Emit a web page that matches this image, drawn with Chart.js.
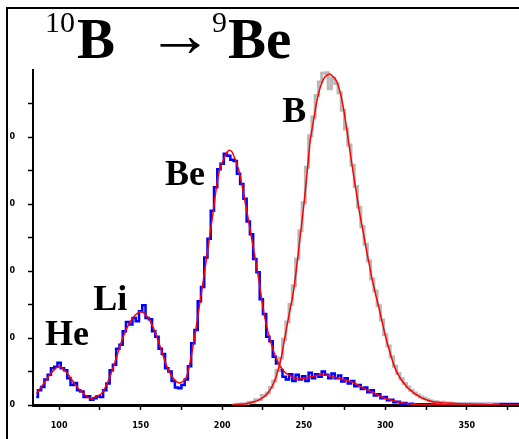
<!DOCTYPE html>
<html>
<head>
<meta charset="utf-8">
<script src="https://cdn.jsdelivr.net/npm/chart.js@4.4.0/dist/chart.umd.min.js"></script>
<style>
  html, body { margin: 0; padding: 0; background: #fff; overflow: hidden; }
  canvas { display: block; }
</style>
</head>
<body>
<canvas id="c" width="519" height="439"></canvas>
<script>
// measured spectrum (blue histogram)
const blueX = [86,88,90,92,94,96,98,100,102,104,
  106,108,110,112,114,116,118,120,122,124,
  126,128,130,132,134,136,138,140,142,144,
  146,148,150,152,154,156,158,160,162,164,
  166,168,170,172,174,176,178,180,182,184,
  186,188,190,192,194,196,198,200,202,204,
  206,208,210,212,214,216,218,220,222,224,
  226,228,230,232,234,236,238,240,242,244,
  246,248,250,252,254,256,258,260,262,264,
  266,268,270,272,274,276,278,280,282,284,
  286,288,290,292,294,296,298,300,302,304,
  306,308,310,312,314,316,318,320,330,350,382];
const blueY = [0.12,0.22,0.27,0.38,0.45,0.55,0.57,0.63,0.55,0.52,
  0.40,0.30,0.33,0.22,0.20,0.12,0.13,0.08,0.10,0.13,
  0.12,0.22,0.32,0.52,0.60,0.84,0.90,1.10,1.24,1.20,
  1.30,1.25,1.40,1.49,1.30,1.28,1.10,1.02,0.84,0.76,
  0.55,0.50,0.36,0.26,0.25,0.30,0.38,0.58,0.92,1.12,
  1.55,1.76,2.20,2.48,2.90,3.25,3.52,3.60,3.75,3.72,
  3.66,3.64,3.45,3.30,3.08,2.74,2.55,2.18,1.98,1.58,
  1.36,1.02,0.95,0.72,0.62,0.52,0.42,0.38,0.46,0.36,
  0.45,0.38,0.43,0.36,0.48,0.40,0.46,0.42,0.50,0.45,
  0.40,0.47,0.40,0.44,0.35,0.40,0.32,0.36,0.28,0.30,
  0.24,0.26,0.19,0.22,0.14,0.16,0.10,0.12,0.07,0.08,
  0.04,0.05,0.02,0.03,0.01,0.02,0.00,0.01,0.01,0.015,0.015];

// fit to He/Li/Be (red)
const fitX = [86,90,94,98,100,102,106,110,114,118,120,122,126,130,134,138,142,146,150,154,
  158,162,166,170,174,178,182,186,190,194,198,202,204,206,210,214,218,222,226,230,
  234,238,242,246,250,256,262,268,274,280,286,292,298,304,310,316,322,382];
const fitY = [0.17,0.30,0.44,0.55,0.57,0.55,0.44,0.30,0.19,0.11,0.10,0.12,0.17,0.35,0.62,0.93,1.17,1.32,1.39,1.32,
  1.14,0.87,0.58,0.40,0.33,0.41,0.86,1.47,2.12,2.80,3.47,3.73,3.80,3.78,3.52,3.04,2.50,1.94,1.32,0.92,
  0.65,0.50,0.43,0.39,0.40,0.43,0.45,0.42,0.38,0.34,0.26,0.19,0.12,0.07,0.035,0.015,0.003,0];

// B peak: histogram (gray) and fit (red)
const bX = [206,210,214,218,222,226,228,230,232,234,236,238,240,242,244,246,248,250,252,254,
  256,258,260,262,264,266,268,270,272,274,276,278,280,282,284,286,288,290,292,294,
  296,298,300,302,304,306,308,310,312,314,316,318,320,322,324,326,328,330,334,338,
  345,352,360,370];
const grayY = [0,0.01,0.02,0.04,0.08,0.14,0.18,0.26,0.36,0.52,0.70,0.98,1.24,1.50,1.78,2.18,2.60,3.02,3.55,4.02,
  4.30,4.62,4.82,4.95,4.96,4.72,4.88,4.80,4.66,4.40,4.12,3.88,3.58,3.26,2.95,2.66,2.40,2.15,1.88,1.70,
  1.48,1.27,1.05,0.88,0.72,0.58,0.47,0.39,0.32,0.27,0.22,0.18,0.15,0.12,0.10,0.08,0.06,0.05,0.04,0.03,
  0.02,0.015,0.01,0];
const bFitY = [0,0.01,0.015,0.04,0.07,0.13,0.18,0.25,0.35,0.50,0.68,0.95,1.22,1.47,1.74,2.13,2.55,2.97,3.45,3.95,
  4.24,4.53,4.73,4.86,4.92,4.94,4.90,4.84,4.70,4.48,4.18,3.84,3.52,3.21,2.90,2.64,2.37,2.12,1.87,1.66,
  1.46,1.25,1.04,0.86,0.69,0.55,0.45,0.37,0.31,0.25,0.21,0.17,0.14,0.11,0.09,0.07,0.055,0.045,0.035,0.03,
  0.02,0.015,0.01,0];

// peak labels (left edge / baseline, in data units)
const peakNames = ['He', 'Li', 'Be', 'B'];
const peakX = [91.4, 120.9, 165.0, 236.8];
const peakY = [0.90, 1.42, 3.28, 4.22];

const pts = (xs, ys) => xs.map((x, i) => ({ x: x, y: ys[i] }));

// white page with the old frame lines on the left and top
const framePlugin = {
  id: 'frame',
  beforeDraw(chart) {
    const { ctx, width, height } = chart;
    ctx.save();
    ctx.fillStyle = '#fff';
    ctx.fillRect(0, 0, width, height);
    ctx.strokeStyle = '#000';
    ctx.lineWidth = 2;
    ctx.beginPath();
    ctx.moveTo(7, height);
    ctx.lineTo(7, 8);
    ctx.lineTo(width, 8);
    ctx.stroke();
    ctx.restore();
  }
};

const textPlugin = {
  id: 'texts',
  afterDraw(chart) {
    const { ctx, scales: { x, y } } = chart;
    ctx.save();
    ctx.fillStyle = '#000';
    ctx.textBaseline = 'alphabetic';
    ctx.textAlign = 'left';
    const serif = '"Liberation Serif", "Times New Roman", serif';
    // title: 10B -> 9Be
    ctx.font = '30px ' + serif;
    ctx.fillText('10', 45, 32);
    ctx.font = 'bold 57px ' + serif;
    ctx.fillText('B', 77, 58);
    ctx.font = '64px ' + serif;
    const aw = ctx.measureText('→').width;
    ctx.save();
    ctx.translate(147, 56);
    ctx.scale(66 / aw, 1);
    ctx.fillText('→', 0, 0);
    ctx.restore();
    ctx.font = '30px ' + serif;
    ctx.fillText('9', 212, 32);
    ctx.font = 'bold 57px ' + serif;
    ctx.fillText('Be', 228, 58);
    // peak names
    ctx.font = 'bold 36px ' + serif;
    peakNames.forEach((n, i) => {
      ctx.fillText(n, x.getPixelForValue(peakX[i]), y.getPixelForValue(peakY[i]));
    });
    ctx.restore();
  }
};

new Chart(document.getElementById('c'), {
  type: 'line',
  data: {
    datasets: [
      { data: pts(fitX, fitY), borderColor: '#ff0000', borderWidth: 1.5, pointRadius: 0, tension: 0.3 },
      { data: pts(bX, bFitY), borderColor: '#ff0000', borderWidth: 1.5, pointRadius: 0, tension: 0.3 },
      { data: pts(bX, grayY), borderColor: '#b8b8b8', borderWidth: 3, pointRadius: 0, stepped: 'middle' },
      { data: pts(blueX, blueY), borderColor: '#0000ff', borderWidth: 2.5, pointRadius: 0, stepped: 'middle' }
    ]
  },
  options: {
    responsive: false,
    animation: false,
    devicePixelRatio: 1,
    layout: { padding: { top: 70, left: 0, right: 0, bottom: 0 } },
    plugins: { legend: { display: false }, tooltip: { enabled: false }, title: { display: false } },
    scales: {
      x: {
        type: 'linear', min: 84, max: 382,
        afterFit: (s) => { s.height = 34; },
        ticks: {
          stepSize: 25, includeBounds: false, autoSkip: false, maxRotation: 0,
          color: '#000', font: { size: 8, family: 'DejaVu Sans', weight: 'bold' }, padding: 11,
          callback: (v) => (v % 50 === 0 ? String(v) : '')
        },
        grid: { drawOnChartArea: false, tickLength: 5, tickColor: '#000', tickWidth: 1.5 },
        border: { display: true, color: '#000', width: 3 }
      },
      y: {
        min: 0, max: 5,
        afterFit: (s) => { s.width = 33; },
        ticks: {
          stepSize: 0.5, autoSkip: false,
          color: '#000', font: { size: 8, family: 'DejaVu Sans', weight: 'bold' }, padding: 13,
          callback: (v) => (Number.isInteger(v) && v < 5 ? '0' : '')
        },
        grid: {
          drawOnChartArea: false, tickLength: 5, tickWidth: 1.5,
          tickColor: (c) => (c.tick && c.tick.value === 5 ? 'rgba(0,0,0,0)' : '#000')
        },
        border: { display: true, color: '#000', width: 2 }
      }
    }
  },
  plugins: [framePlugin, textPlugin]
});
</script>
</body>
</html>
